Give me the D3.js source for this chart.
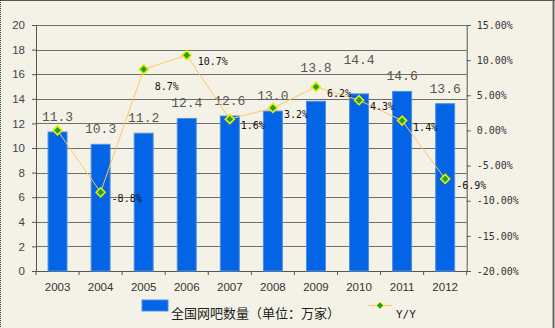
<!DOCTYPE html>
<html>
<head>
<meta charset="utf-8">
<script src="https://cdn.jsdelivr.net/npm/d3@7"></script>
<style>
  html, body { margin: 0; padding: 0; background: #f4f2e7; }
  svg { display: block; }
</style>
</head>
<body>
<svg id="chart" width="555" height="328"></svg>
<script>
// Internet cafés nationwide (10k units) and year-on-year growth
const years = ["2003", "2004", "2005", "2006", "2007", "2008", "2009", "2010", "2011", "2012"];
const cafeCounts = [11.3, 10.3, 11.2, 12.4, 12.6, 13.0, 13.8, 14.4, 14.6, 13.6];
const yoyGrowth = [0, -8.8, 8.7, 10.7, 1.6, 3.2, 6.2, 4.3, 1.4, -6.9];
const leftTicks = [0, 2, 4, 6, 8, 10, 12, 14, 16, 18, 20];
const rightTicks = [-20, -15, -10, -5, 0, 5, 10, 15];
const barSeriesName = "全国网吧数量（单位：万家）";
const lineSeriesName = "Y/Y";

// label nudges (px) so labels avoid the line
const barLabelLift = [0, 0, 0, 0, 0, 0, 18, 19, 0, 0];
const yoyLabelDrop = [0, 0, 11, 0, 0, 0, 0, 0, 0, 0];

const svg = d3.select("#chart");
const W = 555, H = 328;
const plot = { left: 36, right: 466.7, top: 25, bottom: 271 };

// frame
svg.append("rect").attr("x", 0).attr("y", 0).attr("width", W).attr("height", H).attr("fill", "#f4f2e7");
svg.append("line").attr("x1", 0).attr("x2", W).attr("y1", 0.5).attr("y2", 0.5).attr("stroke", "#555");
svg.append("line").attr("x1", 553.5).attr("x2", 553.5).attr("y1", 0).attr("y2", H).attr("stroke", "#666").attr("stroke-width", 2);
svg.append("line").attr("x1", 0.5).attr("x2", 0.5).attr("y1", 0).attr("y2", H)
  .attr("stroke", "#333").attr("stroke-dasharray", "1,1");

const x = d3.scaleBand().domain(years).range([plot.left, plot.right])
  .paddingInner(0.56).paddingOuter(0.28);
const yL = d3.scaleLinear().domain([0, 20]).range([plot.bottom, plot.top]);
const yR = d3.scaleLinear().domain([-20, 15]).range([plot.bottom, plot.top]);
const cx = d => x(d) + x.bandwidth() / 2;

// gridlines
svg.append("g").selectAll("line").data(leftTicks.filter(t => t > 0)).join("line")
  .attr("x1", plot.left).attr("x2", plot.right)
  .attr("y1", d => Math.round(yL(d)) + 0.5).attr("y2", d => Math.round(yL(d)) + 0.5)
  .attr("stroke", "#6e6e6a").attr("stroke-width", 1);

// left axis
const axL = svg.append("g").attr("transform", `translate(${plot.left},0)`)
  .call(d3.axisLeft(yL).tickValues(leftTicks).tickSize(4).tickPadding(7).tickFormat(d3.format("d")));
axL.select(".domain").attr("stroke", "#555");
axL.selectAll(".tick line").attr("stroke", "#555");
axL.selectAll("text").attr("fill", "#444").attr("font-family", "Liberation Sans, Arial, sans-serif").attr("font-size", 11.5);

// right axis
const axR = svg.append("g").attr("transform", `translate(${plot.right},0)`)
  .call(d3.axisRight(yR).tickValues(rightTicks).tickSize(4).tickPadding(6).tickFormat(d => d.toFixed(2) + "%"));
axR.select(".domain").attr("stroke", "#555");
axR.selectAll(".tick line").attr("stroke", "#555");
axR.selectAll("text").attr("fill", "#333").attr("font-family", "DejaVu Sans Mono, monospace").attr("font-size", 10);

// bottom axis with ticks between categories
const axB = svg.append("g").attr("transform", `translate(0,${plot.bottom})`)
  .call(d3.axisBottom(x).tickSize(0).tickPadding(12));
axB.select(".domain").attr("stroke", "#555");
axB.selectAll("text").attr("fill", "#333").attr("font-family", "Liberation Sans, Arial, sans-serif").attr("font-size", 11.5);
const step = x.step();
svg.append("g").selectAll("line").data(d3.range(years.length + 1)).join("line")
  .attr("x1", i => plot.left + i * step).attr("x2", i => plot.left + i * step)
  .attr("y1", plot.bottom).attr("y2", plot.bottom + 4).attr("stroke", "#555");

// bars
svg.append("g").selectAll("rect").data(years).join("rect")
  .attr("x", d => x(d)).attr("width", x.bandwidth())
  .attr("y", (d, i) => yL(cafeCounts[i])).attr("height", (d, i) => plot.bottom - yL(cafeCounts[i]))
  .attr("fill", "#0464e6").attr("stroke", "#4b8fe2").attr("stroke-width", 1);

// bar value labels
svg.append("g").selectAll("text").data(years).join("text")
  .attr("x", d => cx(d))
  .attr("y", (d, i) => yL(cafeCounts[i]) - 11 - barLabelLift[i])
  .attr("text-anchor", "middle")
  .attr("font-family", "Liberation Mono, monospace").attr("font-size", 13)
  .attr("fill", "#555")
  .text((d, i) => cafeCounts[i].toFixed(1));

// growth line
const line = d3.line().x((d, i) => cx(years[i])).y(d => yR(d));
svg.append("path").datum(yoyGrowth).attr("d", line)
  .attr("fill", "none").attr("stroke", "#ffc666").attr("stroke-width", 1);

const diamond = r => `M0,${-r}L${r},0L0,${r}L${-r},0Z`;
svg.append("g").selectAll("path").data(yoyGrowth).join("path")
  .attr("transform", (d, i) => `translate(${cx(years[i])},${yR(d)})`)
  .attr("d", diamond(4.5))
  .attr("fill", "#12a83c").attr("stroke", "#f2e600").attr("stroke-width", 1.6);

// growth labels (first year has no prior value)
svg.append("g").selectAll("text").data(yoyGrowth.map((v, i) => ({ v, i })).filter(o => o.i > 0)).join("text")
  .attr("x", o => cx(years[o.i]) + 11)
  .attr("y", o => yR(o.v) + 10 + yoyLabelDrop[o.i])
  .attr("font-family", "DejaVu Sans Mono, monospace").attr("font-size", 10)
  .attr("fill", "#111")
  .text(o => o.v.toFixed(1) + "%");

// legend
const lg = svg.append("g");
lg.append("rect").attr("x", 142).attr("y", 300).attr("width", 26).attr("height", 11)
  .attr("fill", "#0464e6").attr("stroke", "#4b8fe2");
lg.append("text").attr("x", 171).attr("y", 317.5)
  .attr("font-family", "Noto Sans CJK SC, sans-serif").attr("font-size", 13).attr("fill", "#222")
  .text(barSeriesName);
lg.append("line").attr("x1", 368).attr("x2", 392).attr("y1", 305.5).attr("y2", 305.5)
  .attr("stroke", "#ffc666").attr("stroke-width", 1);
lg.append("path").attr("transform", "translate(380,305.5)").attr("d", diamond(3.5))
  .attr("fill", "#12a83c").attr("stroke", "#f2e600").attr("stroke-width", 1);
lg.append("text").attr("x", 396).attr("y", 317.5)
  .attr("font-family", "DejaVu Sans Mono, monospace").attr("font-size", 11).attr("fill", "#222")
  .text(lineSeriesName);
</script>
</body>
</html>
